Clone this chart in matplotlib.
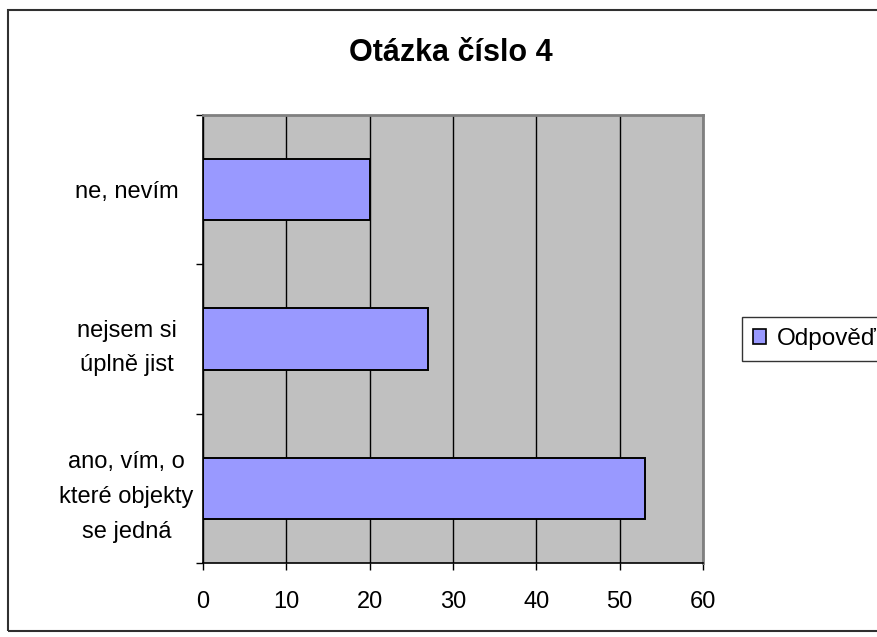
import matplotlib.pyplot as plt
from matplotlib.patches import Patch, Rectangle

plt.rcParams['font.family'] = ['Liberation Sans', 'DejaVu Sans']

# data
categories = ["ano, vím, o\nkteré objekty\nse jedná", "nejsem si\núplně jist", "ne, nevím"]
values = [53, 27, 20]
series_name = "Odpověď"
title = "Otázka číslo 4"
xticks = [0, 10, 20, 30, 40, 50, 60]

W, H = 877, 637
fig = plt.figure(figsize=(W / 100, H / 100), dpi=100)

# plot area in pixel coords
left, right, top, bottom = 203, 703, 115, 563
ax = fig.add_axes([left / W, (H - bottom) / H, (right - left) / W, (bottom - top) / H])
ax.set_facecolor("#C0C0C0")

pos = list(range(len(categories)))
ax.barh(pos, values, height=0.41, color="#9999FF", edgecolor="black", linewidth=1.4,
        zorder=3, label=series_name)

ax.set_xlim(0, 60)
ax.set_ylim(-0.5, len(categories) - 0.5)
ax.set_xticks(xticks)
ax.set_xticklabels([str(t) for t in xticks], fontsize=17)
ax.xaxis.grid(True, color="black", linewidth=1, zorder=1)
ax.set_axisbelow(True)

ax.set_yticks(pos)
ax.set_yticklabels(categories, fontsize=17, ha="center", linespacing=1.75)
ax.tick_params(axis="y", which="major", length=0, pad=55)
ax.set_yticks([p - 0.5 for p in pos] + [len(categories) - 0.5], minor=True)
ax.tick_params(axis="y", which="minor", length=5, width=1, color="black")
ax.tick_params(axis="x", length=5, width=1, color="black", pad=15)

for s in ["left", "bottom"]:
    ax.spines[s].set_color("black")
    ax.spines[s].set_linewidth(1.2)
for s in ["top", "right"]:
    ax.spines[s].set_color("#808080")
    ax.spines[s].set_linewidth(2)

fig.text(451 / W, 1 - 53 / H, title, fontsize=22, fontweight="bold",
         ha="center", va="center")

handle = Patch(facecolor="#9999FF", edgecolor="black", linewidth=1.2)
leg = fig.legend([handle], [series_name], loc="upper left",
                 bbox_to_anchor=(742 / W, 1 - 317 / H), fontsize=17.5,
                 frameon=True, fancybox=False, handlelength=0.55, handleheight=0.55,
                 handletextpad=0.45, borderpad=0.45, borderaxespad=0)
leg.get_frame().set_edgecolor("black")
leg.get_frame().set_linewidth(1)

# outer chart border (runs past the right edge)
fig.patches.append(Rectangle((8 / W, 1 - 631 / H), 1.0, (631 - 10) / H,
                             transform=fig.transFigure, fill=False,
                             edgecolor="#303030", linewidth=1.5))

fig.savefig("out.png", dpi=100)
